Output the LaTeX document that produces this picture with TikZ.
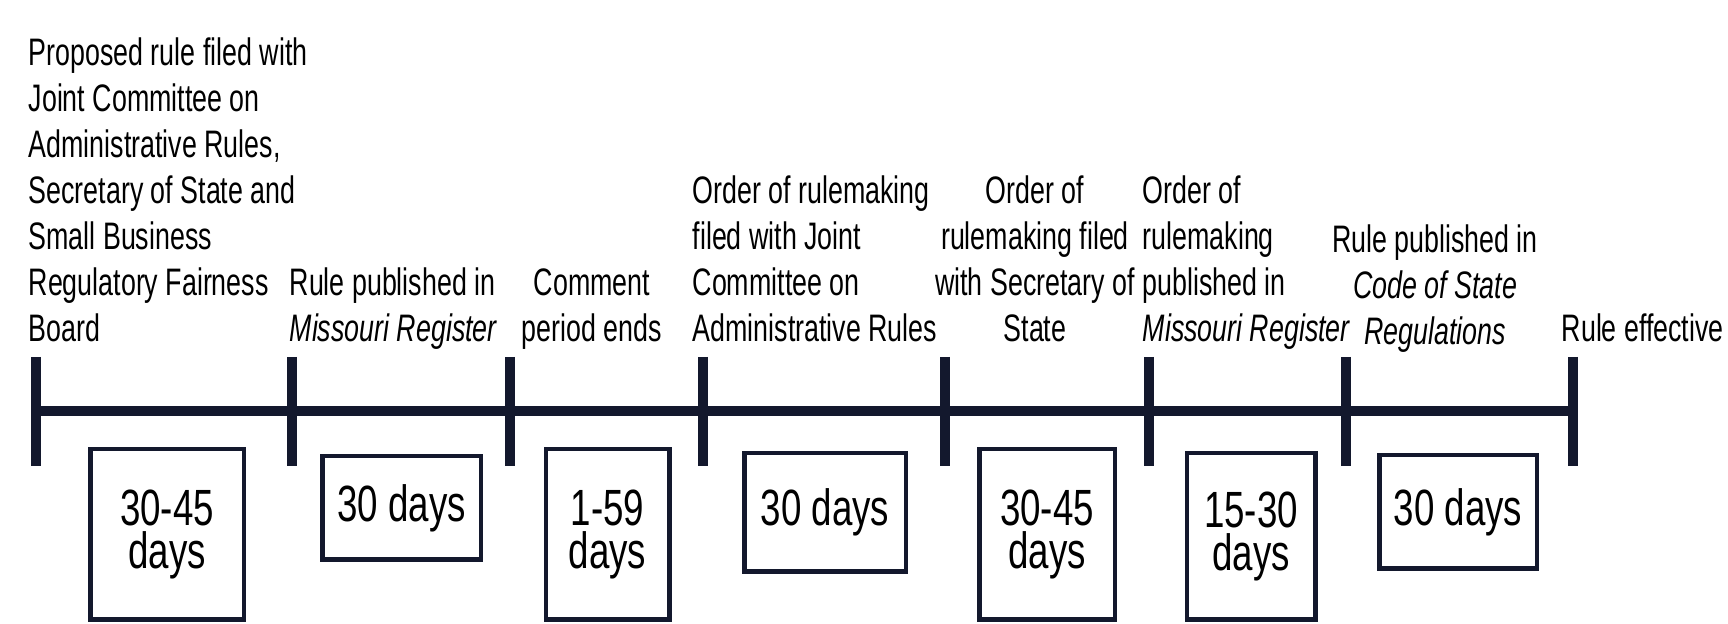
\documentclass[tikz,border=0pt]{standalone}
\usepackage{fontspec}
\setmainfont[FakeStretch=0.7]{Liberation Sans}
\newfontfamily\daysfont[FakeStretch=0.72]{Liberation Sans}
\usetikzlibrary{calc}
\definecolor{navy}{RGB}{19,24,45}
\tikzset{
  axisline/.style={draw=navy, line width=1mm},
  tickmark/.style={draw=navy, line width=0.95mm},
  eventlabel/.style={
    inner sep=0pt,
    text depth=0pt,
    align=left,
    anchor=south west,
    font=\fontsize{10.9}{13.1}\selectfont},
  eventcenter/.style={eventlabel, align=center, anchor=south},
  daysbox/.style={
    draw=navy, line width=0.45mm,
    inner sep=0pt,
    align=center,
    font=\daysfont\fontsize{14.5}{12}\selectfont},
}

\begin{document}
\begin{tikzpicture}[x=0.1mm, y=-0.1mm]
  \useasboundingbox (0,0) rectangle (1728,624);
  % points on the time line
  \coordinate (T1) at (36,411);
  \coordinate (T2) at (292,411);
  \coordinate (T3) at (510,411);
  \coordinate (T4) at (703,411);
  \coordinate (T5) at (945,411);
  \coordinate (T6) at (1149,411);
  \coordinate (T7) at (1346,411);
  \coordinate (T8) at (1573,411);
  \draw[axisline] (T1) -- (T8);
  \foreach \t in {T1,T2,T3,T4,T5,T6,T7,T8}
    \draw[tickmark] (\t) ++(0,-54) -- ++(0,109);

  % events above the line
  \node[eventlabel] (Filed) at (28,342) {Proposed rule filed with\\Joint Committee on\\Administrative Rules,\\Secretary of State and\\Small Business\\Regulatory Fairness\\Board};
  \node[eventlabel] (Published) at (289,342) {Rule published in\\\textit{Missouri Register}};
  \node[eventcenter] (CommentEnds) at (592,342) {Comment\\period ends};
  \node[eventlabel] (OrderJCAR) at (692,342) {Order of rulemaking\\filed with Joint\\Committee on\\Administrative Rules};
  \node[eventcenter] (OrderSOS) at (1035,342) {Order of\\rulemaking filed\\with Secretary of\\State};
  \node[eventlabel] (OrderPublished) at (1142,342) {Order of\\rulemaking\\published in\\\textit{Missouri Register}};
  \node[eventcenter] (CSRPublished) at (1435,345) {Rule published in\\\textit{Code of State}\\\textit{Regulations}};
  \node[eventlabel] (Effective) at (1561,342) {Rule effective};

  % periods below the line
  \node[daysbox, minimum width=15.35mm, minimum height=17.05mm] (Days1) at (167,534.5) {30-45\\days};
  \node[daysbox, minimum width=15.85mm, minimum height=10.35mm] (Days2) at (401.5,508) {30 days};
  \node[daysbox, minimum width=12.35mm, minimum height=17.05mm] (Days3) at (607.5,534.5) {1-59\\days};
  \node[daysbox, minimum width=16.15mm, minimum height=11.85mm] (Days4) at (825,512.5) {30 days};
  \node[daysbox, minimum width=13.55mm, minimum height=17.05mm] (Days5) at (1047,534.5) {30-45\\days};
  \node[daysbox, minimum width=12.85mm, minimum height=16.65mm] (Days6) at (1251,536.5) {15-30\\days};
  \node[daysbox, minimum width=15.75mm, minimum height=11.35mm] (Days7) at (1458,512) {30 days};
\end{tikzpicture}
\end{document}
